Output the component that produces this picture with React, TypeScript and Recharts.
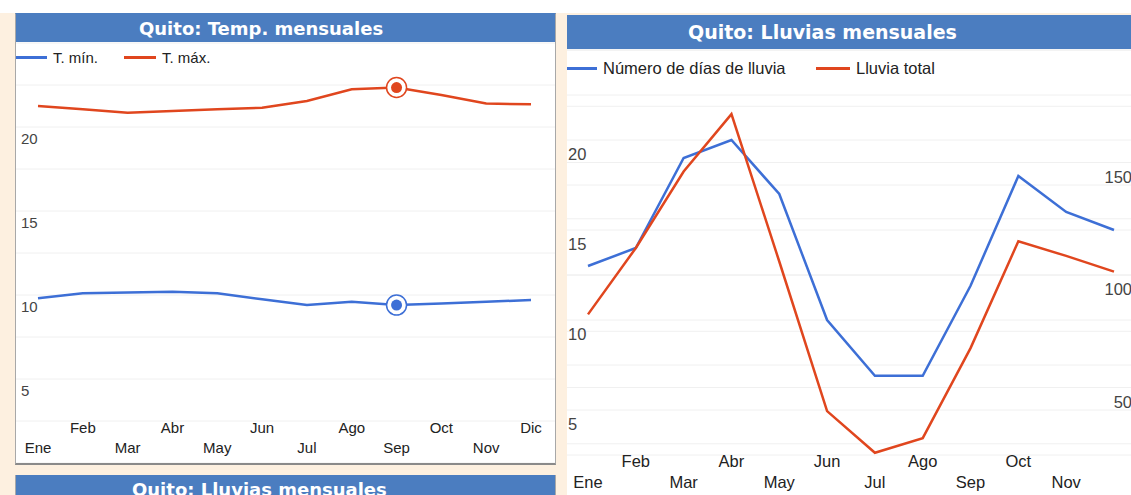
import React from 'react';
import { LineChart, Line, XAxis, YAxis, CartesianGrid } from 'recharts';

// Quito climate data
const months = ['Ene', 'Feb', 'Mar', 'Abr', 'May', 'Jun', 'Jul', 'Ago', 'Sep', 'Oct', 'Nov', 'Dic'];
const tempMin = [9.8, 10.1, 10.15, 10.2, 10.1, 9.75, 9.4, 9.6, 9.4, 9.5, 9.6, 9.7];
const tempMax = [21.25, 21.05, 20.85, 20.95, 21.05, 21.15, 21.55, 22.25, 22.35, 21.9, 21.4, 21.35];
const rainDays = [13.0, 14.0, 19.0, 20.0, 17.0, 10.0, 6.9, 6.9, 11.9, 18.0, 16.0, 15.0];
const rainTotal = [82.5, 112, 146, 171.5, 106, 39.5, 21, 27.5, 67.5, 115, 108.5, 101.5];

const tempTicks = [0, 2.5, 5, 7.5, 10, 12.5, 15, 17.5, 20, 22.5, 25];
const dayTicks = [0, 2.5, 5, 7.5, 10, 12.5, 15, 17.5, 20, 22.5, 25];
const rainTicks = [0, 25, 50, 75, 100, 125, 150, 175, 200];
const tempLabels = [5, 10, 15, 20];
const dayLabels = [5, 10, 15, 20];
const rainLabels = [50, 100, 150];
const highlightMonth = 'Sep';

const tempData = months.map((m, i) => ({ month: m, min: tempMin[i], max: tempMax[i] }));
const rainData = months.map((m, i) => ({ month: m, days: rainDays[i], total: rainTotal[i] }));

const BLUE = '#3d6fd6';
const RED = '#e0461e';
const GRID = '#f0f0f0';
const TITLE_BG = '#4b7dc0';
const CREAM = '#fdf0e0';
const FONT = '"Liberation Sans", Arial, sans-serif';
const TITLE_FONT = '"DejaVu Sans", Verdana, sans-serif';

// month labels sit inside the plot, in two staggered rows
const makeMonthTick = (size: number, upY: number, lowY: number, hideLast: boolean) => (props: any) => {
  const { x, payload } = props;
  const i = months.indexOf(payload.value);
  if (hideLast && i === months.length - 1) return <g />;
  return (
    <text x={x} y={i % 2 === 1 ? upY : lowY} textAnchor="middle" fontSize={size} fontFamily={FONT} fill="#222">
      {payload.value}
    </text>
  );
};

const makeValueTick = (labels: number[], size: number, tx: number, dy: number, anchor: string) => (props: any) => {
  const { y, payload } = props;
  if (!labels.includes(payload.value)) return <g />;
  return (
    <text x={tx} y={y + dy} textAnchor={anchor} fontSize={size} fontFamily={FONT} fill="#444">
      {payload.value}
    </text>
  );
};

const makeDot = (color: string) => (props: any) => {
  const { cx, cy, index } = props;
  if (months[index] !== highlightMonth) return <g key={`d${index}`} />;
  return (
    <g key={`d${index}`}>
      <circle cx={cx} cy={cy} r={10} fill="#fff" stroke={color} strokeWidth={1.5} />
      <circle cx={cx} cy={cy} r={5.5} fill={color} />
    </g>
  );
};

const LegendItem = ({ left, top, color, label, seg, size }: any) => (
  <div style={{ position: 'absolute', left, top, display: 'flex', alignItems: 'center', fontFamily: FONT, fontSize: size, color: '#222', whiteSpace: 'nowrap' }}>
    <div style={{ width: seg, height: 3, background: color, marginRight: 6 }} />
    <span>{label}</span>
  </div>
);

const TitleBar = ({ text, height, size, pad }: any) => (
  <div style={{ height, background: TITLE_BG, color: '#fff', fontFamily: TITLE_FONT, fontWeight: 'bold', fontSize: size, display: 'flex', alignItems: 'center', paddingLeft: pad, whiteSpace: 'nowrap' }}>
    {text}
  </div>
);

export default function App() {
  return (
    <div style={{ position: 'absolute', left: 0, top: 0, width: 1131, height: 495, overflow: 'hidden', background: CREAM }}>
      <div style={{ position: 'absolute', left: 0, top: 0, width: 1131, height: 13, background: '#fff' }} />

      {/* left panel: temperatures */}
      <div style={{ position: 'absolute', left: 15, top: 13, width: 539, background: '#fff', borderLeft: '1px solid #a8a8a8', borderRight: '1px solid #a8a8a8', borderBottom: '2px solid #8a8a8a', borderTop: `1px solid ${TITLE_BG}` }}>
        <TitleBar text="Quito: Temp. mensuales" height={28} size={18} pad={123} />
        <div style={{ position: 'relative' }}>
          <LineChart width={539} height={421} data={tempData} margin={{ top: 1, right: 0, bottom: 0, left: 0 }}>
            <CartesianGrid horizontal vertical={false} stroke={GRID} />
            <XAxis dataKey="month" mirror height={30} axisLine={false} tickLine={false}
              interval={0} padding={{ left: 22, right: 24 }} tick={makeMonthTick(15, 391, 411, false)} />
            <YAxis mirror width={40} domain={[0, 25]} ticks={tempTicks} axisLine={false} tickLine={false}
              tick={makeValueTick(tempLabels, 15, 5, 17, 'start')} />
            <Line dataKey="min" stroke={BLUE} strokeWidth={2.5} dot={makeDot(BLUE)} activeDot={false} isAnimationActive={false} />
            <Line dataKey="max" stroke={RED} strokeWidth={2.5} dot={makeDot(RED)} activeDot={false} isAnimationActive={false} />
          </LineChart>
          <LegendItem left={0} top={7} color={BLUE} label="T. mín." seg={31} size={15} />
          <LegendItem left={108} top={7} color={RED} label="T. máx." seg={32} size={15} />
        </div>
      </div>

      {/* bottom-left panel, cut off */}
      <div style={{ position: 'absolute', left: 15, top: 475, width: 539, height: 40, background: '#fff', borderLeft: '1px solid #a8a8a8', borderRight: '1px solid #a8a8a8' }}>
        <TitleBar text="Quito: Lluvias mensuales" height={28} size={18} pad={116} />
      </div>

      {/* right panel: rain */}
      <div style={{ position: 'absolute', left: 567, top: 15, width: 566, background: '#fff' }}>
        <TitleBar text="Quito: Lluvias mensuales" height={34} size={19} pad={121} />
        <div style={{ position: 'relative' }}>
          <LineChart width={566} height={451} data={rainData} margin={{ top: 1, right: 0, bottom: 0, left: 0 }}>
            <CartesianGrid yAxisId="left" horizontal vertical={false} stroke={GRID} />
            <CartesianGrid yAxisId="right" horizontal vertical={false} stroke={GRID} />
            <XAxis dataKey="month" mirror height={30} axisLine={false} tickLine={false}
              interval={0} padding={{ left: 21, right: 19 }} tick={makeMonthTick(16.5, 418, 439, true)} />
            <YAxis yAxisId="left" mirror width={40} domain={[0, 25]} ticks={dayTicks} axisLine={false} tickLine={false}
              tick={makeValueTick(dayLabels, 16.5, 1, 20, 'start')} />
            <YAxis yAxisId="right" orientation="right" mirror width={40} domain={[0, 200]} ticks={rainTicks} axisLine={false} tickLine={false}
              tick={makeValueTick(rainLabels, 16.5, 565, 20, 'end')} />
            <Line yAxisId="left" dataKey="days" stroke={BLUE} strokeWidth={2.5} dot={false} activeDot={false} isAnimationActive={false} />
            <Line yAxisId="right" dataKey="total" stroke={RED} strokeWidth={2.5} dot={false} activeDot={false} isAnimationActive={false} />
          </LineChart>
          <LegendItem left={0} top={10} color={BLUE} label="Número de días de lluvia" seg={30} size={16.5} />
          <LegendItem left={249} top={10} color={RED} label="Lluvia total" seg={34} size={16.5} />
        </div>
      </div>
    </div>
  );
}
